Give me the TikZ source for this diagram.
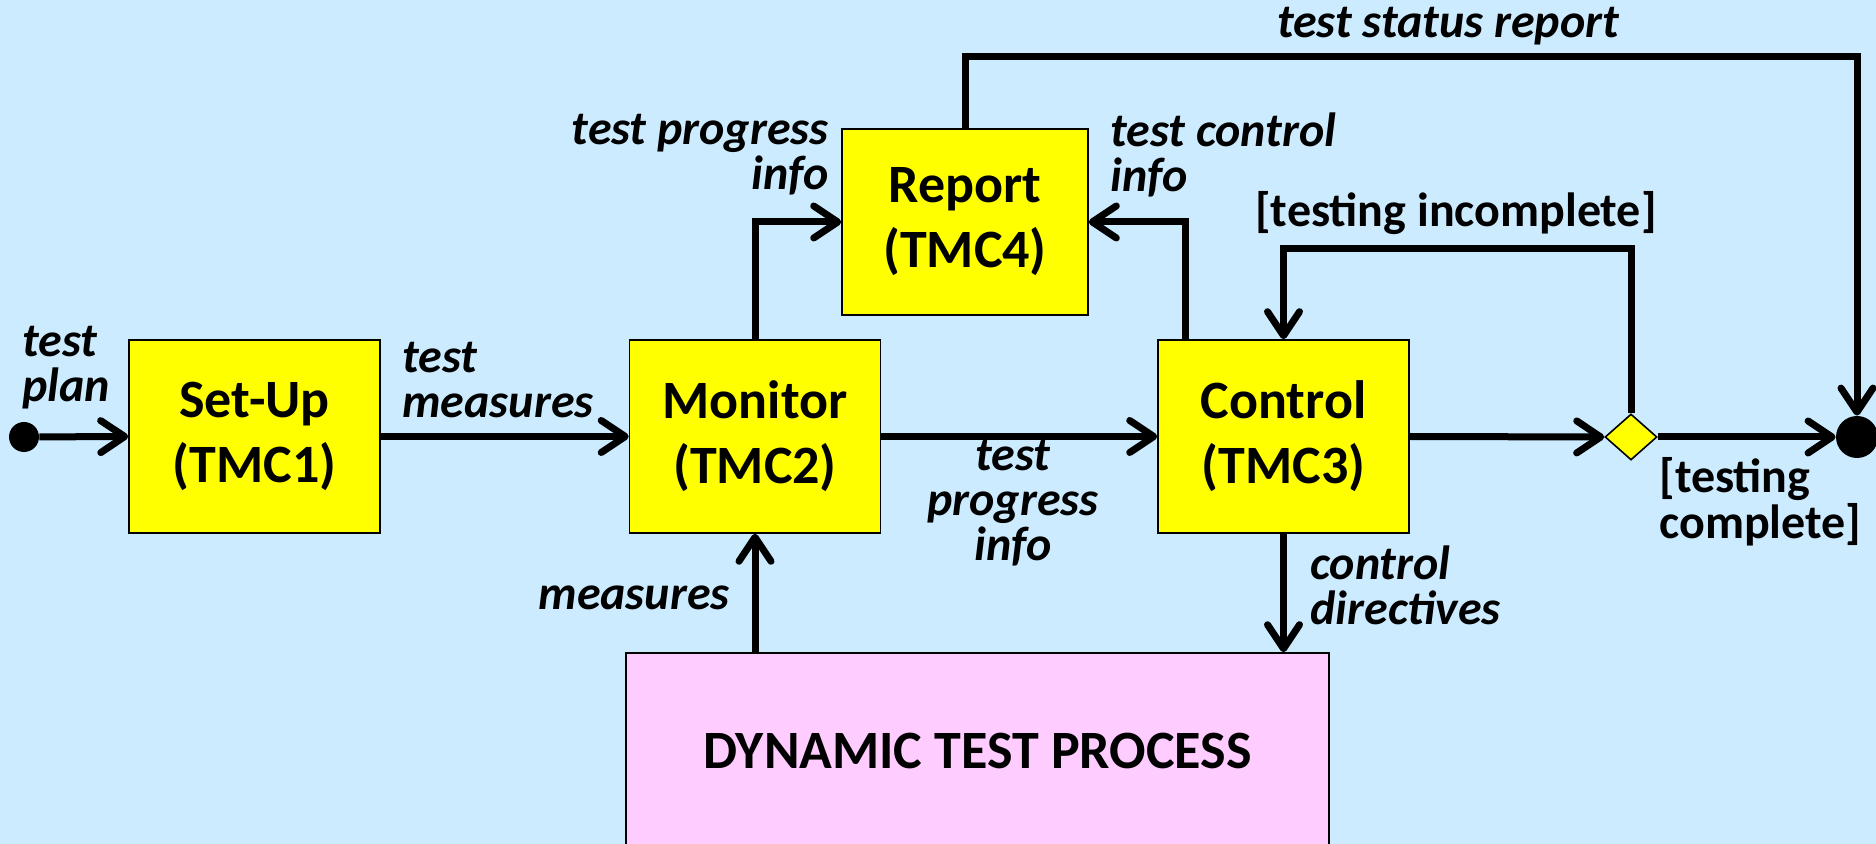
\documentclass[tikz,border=0pt]{standalone}
\usepackage{fontspec}
\setmainfont{Carlito}
\usetikzlibrary{arrows.meta,shapes.geometric,calc}
\definecolor{bg}{RGB}{204,235,255}
\definecolor{boxy}{RGB}{255,255,0}
\definecolor{pinky}{RGB}{255,204,255}
\begin{document}
\begin{tikzpicture}[x=0.5pt,y=-0.5pt,
  proc/.style={draw=black,line width=0.8pt,fill=boxy,align=center,inner sep=0pt,
    font=\fontsize{27}{32.5}\selectfont\bfseries},
  lab/.style={inner sep=0pt,font=\fontsize{24}{22.5}\selectfont\bfseries\itshape},
  glab/.style={inner sep=0pt,font=\fontsize{24}{23}\selectfont\bfseries},
  flow/.style={line width=3.5pt,-{Straight Barb[length=12pt,width=16pt,round]}},
  wire/.style={line width=3.5pt}
]
\fill[bg] (0,0) rectangle (1876,844);
\useasboundingbox (0,0) rectangle (1876,844);

% boxes
\node[proc,minimum width=125.5pt,minimum height=96.5pt] (setup) at (254.5,436.5) {Set-Up\\(TMC1)};
\node[proc,minimum width=125.5pt,minimum height=96.5pt] (mon) at (755,436.5) {Monitor\\(TMC2)};
\node[proc,minimum width=125.5pt,minimum height=96.5pt] (ctrl) at (1283.5,436.5) {Control\\(TMC3)};
\node[proc,minimum width=123pt,minimum height=93pt] (rep) at (965,222) {Report\\(TMC4)};
\node[proc,fill=pinky,minimum width=351.5pt,minimum height=98pt] (dtp) at (977.5,751) {DYNAMIC TEST PROCESS};
\node[diamond,draw=black,line width=0.8pt,fill=boxy,inner sep=0pt,minimum width=26pt,minimum height=23pt] (dia) at (1631,437) {};
\node[circle,fill=black,inner sep=0pt,minimum size=15pt] (start) at (24,437) {};
\node[circle,fill=black,inner sep=0pt,minimum size=21pt] (end) at (1857,437) {};

% connectors
\draw[flow] (start) -- (setup.west);
\draw[flow] (setup.east) -- (mon.west);
\draw[flow] (mon.east) -- (ctrl.west);
\draw[flow] (mon.north) |- (rep.west);
\draw[flow] ([xshift=14pt]ctrl.north west) |- (rep.east);
\draw[flow] (rep.north) -- ++(0,-72) -| (end.north);
\draw[flow] (ctrl.east) -- (dia.west);
\draw[flow] (dia.north) -- ++(0,-165) -| (ctrl.north);
\draw[flow] (dia.east) -- (end.west);
\draw[flow] (mon.south |- dtp.north) -- (mon.south);
\draw[flow] (ctrl.south) -- (ctrl.south |- dtp.north);

% labels
\node[lab,align=left,anchor=west] (l1) at (22,368) {test\\plan};
\node[lab,align=left,anchor=west] (l2) at (402,380) {test\\measures};
\node[lab,align=center] (l3) at (1013,503) {test\\progress\\info};
\node[lab,align=right,anchor=east] (l4) at (829,155) {test progress\\info};
\node[lab,align=left,anchor=west] (l5) at (1110,155) {test control\\info};
\node[lab] (l6) at (1448,26) {test status report};
\node[glab] (l7) at (1456,213) {[testing incomplete]};
\node[glab,align=left,anchor=west] (l8) at (1659,502) {[testing\\complete]};
\node[lab,anchor=east] (l9) at (730,598) {measures};
\node[lab,align=left,anchor=west] (l10) at (1310,585) {control\\directives};
\end{tikzpicture}
\end{document}
